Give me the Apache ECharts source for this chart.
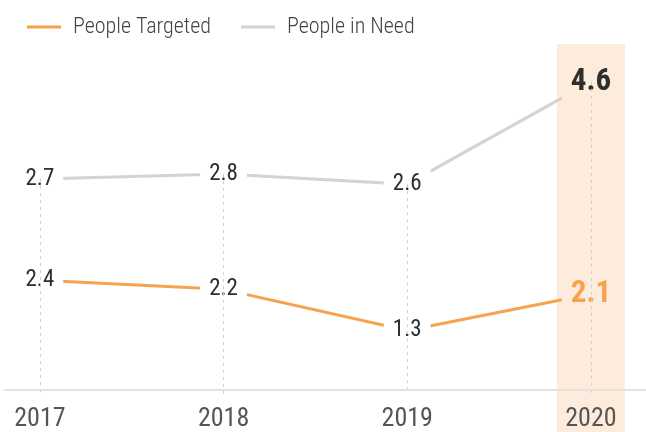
<!DOCTYPE html>
<html>
<head>
    <meta charset="utf-8">
    <script src="https://cdn.jsdelivr.net/npm/echarts@6/dist/echarts.min.js"></script>
    <style>
        html, body { margin: 0; padding: 0; background: #fff; }
    </style>
</head>
<body>
    <div id="main" style="width: 646px;height:432px;"></div>
    <script type="text/javascript">
        var years = [2017, 2018, 2019, 2020];
        var targeted = [2.4, 2.2, 1.3, 2.1];
        var inNeed = [2.7, 2.8, 2.6, 4.6];
        var seriesNames = ['People Targeted', 'People in Need'];

        var FONT = "'Roboto Condensed', 'DejaVu Sans Condensed', sans-serif";
        var ORANGE = '#f7a24f';
        var GREY = '#d3d3d3';
        var BAND = '#fdecdc';
        var last = years.length - 1;

        // the last year gets a big bold label on the highlight band
        function pointData(vals, lastColor) {
            return vals.map(function (v, i) {
                var item = { value: [years[i], v] };
                if (i === last) {
                    item.label = {
                        fontSize: 31,
                        fontWeight: 'bold',
                        color: lastColor,
                        backgroundColor: BAND
                    };
                }
                return item;
            });
        }

        var pointLabel = {
            show: true,
            position: 'inside',
            fontFamily: FONT,
            fontSize: 23,
            color: '#2e2e2e',
            backgroundColor: '#fff',
            padding: [6, 9]
        };

        var chart = echarts.init(document.getElementById('main'));

        chart.setOption({
            animation: false,
            textStyle: { fontFamily: FONT },
            legend: {
                left: 22,
                top: 11,
                icon: 'rect',
                itemWidth: 34,
                itemHeight: 3,
                itemGap: 30,
                textStyle: {
                    fontSize: 22, fontWeight: 300, color: '#444', fontFamily: FONT,
                    padding: [0, 0, 0, 7]
                },
                data: seriesNames
            },
            grid: [
                { left: 5, right: 0, top: 44, bottom: 32 },
                { left: 5, right: 0, top: 44, bottom: 0 }
            ],
            xAxis: [
                {
                    type: 'value', gridIndex: 0, min: 2016.81, max: 2020.3, z: 5,
                    axisLine: { show: true, lineStyle: { color: '#e2e2e2', width: 2 } },
                    axisTick: { show: false },
                    splitLine: { show: false },
                    axisLabel: {
                        customValues: years,
                        formatter: function (v) { return String(v); },
                        fontSize: 26, color: '#555', margin: 7, fontFamily: FONT
                    }
                },
                { type: 'value', gridIndex: 1, min: 2016.81, max: 2020.3, show: false }
            ],
            yAxis: [
                { type: 'value', gridIndex: 0, min: -0.2, max: 7.57, show: false },
                { type: 'value', gridIndex: 0, min: -1.6, max: 5.34, show: false },
                { type: 'value', gridIndex: 1, min: 0, max: 1, show: false }
            ],
            series: [
                {
                    name: 'band',
                    type: 'bar',
                    xAxisIndex: 1,
                    yAxisIndex: 2,
                    z: -1,
                    silent: true,
                    barWidth: 68,
                    itemStyle: { color: BAND },
                    data: [[years[last], 1]]
                },
                {
                    name: seriesNames[1],
                    type: 'line',
                    yAxisIndex: 1,
                    symbol: 'circle',
                    symbolSize: 0,
                    itemStyle: { color: GREY },
                    lineStyle: { color: GREY, width: 3 },
                    label: pointLabel,
                    data: pointData(inNeed, '#2e2e2e'),
                    // dotted drop lines from each grey point to the axis
                    markLine: {
                        silent: true,
                        symbol: 'none',
                        label: { show: false },
                        lineStyle: { color: '#cfcfcf', width: 1, type: [3, 4] },
                        data: inNeed.map(function (v, i) {
                            return [{ coord: [years[i], v] }, { coord: [years[i], -1.5] }];
                        })
                    }
                },
                {
                    name: seriesNames[0],
                    type: 'line',
                    yAxisIndex: 0,
                    symbol: 'circle',
                    symbolSize: 0,
                    itemStyle: { color: ORANGE },
                    lineStyle: { color: ORANGE, width: 3 },
                    label: pointLabel,
                    data: pointData(targeted, ORANGE)
                }
            ]
        });
    </script>
</body>
</html>
